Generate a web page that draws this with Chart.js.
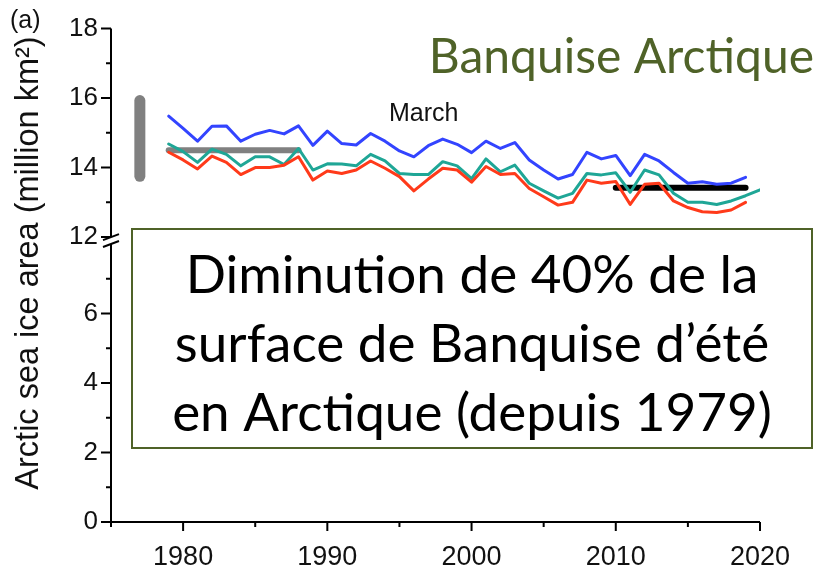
<!DOCTYPE html>
<html>
<head>
<meta charset="utf-8">
<script src="https://cdn.jsdelivr.net/npm/chart.js@4.4.0/dist/chart.umd.min.js"></script>
<style>
  html, body { margin: 0; padding: 0; background: #fff; }
</style>
</head>
<body>
<canvas id="myChart" width="825" height="567"></canvas>
<script>
// March sea ice area, million km2
const years = [
  1979, 1980, 1981, 1982, 1983, 1984, 1985, 1986, 1987, 1988,
  1989, 1990, 1991, 1992, 1993, 1994, 1995, 1996, 1997, 1998,
  1999, 2000, 2001, 2002, 2003, 2004, 2005, 2006, 2007, 2008,
  2009, 2010, 2011, 2012, 2013, 2014, 2015, 2016, 2017, 2018,
  2019, 2020
];
const blueArea = [
  15.48, 15.13, 14.76, 15.19, 15.20, 14.76, 14.96, 15.07, 14.97, 15.20,
  14.64, 15.05, 14.69, 14.65, 14.98, 14.76, 14.48, 14.31, 14.63, 14.82,
  14.67, 14.43, 14.76, 14.55, 14.72, 14.22, 13.93, 13.67, 13.80, 14.44,
  14.25, 14.35, 13.77, 14.38, 14.19, 13.86, 13.55, 13.59, 13.52, 13.55,
  13.72
];
const tealArea = [
  14.68, 14.46, 14.15, 14.53, 14.38, 14.05, 14.31, 14.31, 14.09, 14.55,
  13.93, 14.11, 14.10, 14.05, 14.38, 14.19, 13.83, 13.80, 13.80, 14.17,
  14.05, 13.68, 14.25, 13.88, 14.07, 13.55, 13.33, 13.12, 13.26, 13.83,
  13.79, 13.85, 13.29, 13.93, 13.79, 13.26, 13.00, 13.00, 12.94, 13.04,
  13.19, 13.36
];
const redArea = [
  14.44, 14.22, 13.96, 14.33, 14.15, 13.80, 14.00, 14.00, 14.07, 14.31,
  13.64, 13.90, 13.83, 13.93, 14.19, 13.98, 13.74, 13.33, 13.67, 13.98,
  13.93, 13.58, 14.03, 13.80, 13.83, 13.40, 13.16, 12.92, 13.00, 13.64,
  13.55, 13.60, 12.94, 13.52, 13.55, 13.04, 12.85, 12.73, 12.71, 12.78,
  13.00
];

// reference periods: 1979-1988 mean, 2010-2019 mean, spread bar
const earlyYears = [1979, 1988];
const earlyMean = [14.5, 14.5];
const lateYears = [2010, 2019];
const lateMean = [13.42, 13.42];
const spreadYears = [1977, 1977];
const spreadRange = [13.75, 15.93];

const xMajor = [1980, 1990, 2000, 2010, 2020];
const xMinor = [1975, 1985, 1995, 2005, 2015];
const yMajor = [0, 2, 4, 6, 12, 14, 16, 18];
const yMinor = [1, 3, 5, 7, 13, 15, 17];

// the axis is broken between 8 and 12: values from 12 up are drawn shifted down
const BREAK_LOW = 8;
const BREAK_HIGH = 12;
const BREAK_SHIFT = 3.8;
const shown = v => (v >= BREAK_HIGH ? v - BREAK_SHIFT : v);
const real = v => (v >= BREAK_LOW + 0.1 ? v + BREAK_SHIFT : v);
const points = (xs, ys) => ys.map((v, i) => ({ x: xs[i], y: shown(v) }));

const SANS = "'Liberation Sans', Arial, sans-serif";
const SLIDE = "Lato, 'Open Sans', sans-serif";

function lineSet(data, color, width) {
  return {
    data: data,
    borderColor: color,
    borderWidth: width,
    borderCapStyle: "round",
    borderJoinStyle: "round",
    pointRadius: 0,
    tension: 0,
    fill: false
  };
}

const decorations = {
  id: "decorations",
  afterDraw(chart) {
    const ctx = chart.ctx;
    const xs = chart.scales.x;
    const ys = chart.scales.y;
    const area = chart.chartArea;
    const ax = area.left;
    const ay = area.bottom;

    ctx.save();
    ctx.strokeStyle = "#000";
    ctx.lineWidth = 2;
    ctx.lineCap = "butt";

    // y axis in two pieces around the break
    const yLowTop = ys.getPixelForValue(BREAK_LOW);
    const yHighBottom = ys.getPixelForValue(shown(BREAK_HIGH));
    ctx.beginPath();
    ctx.moveTo(ax, ay + 1);
    ctx.lineTo(ax, yLowTop);
    ctx.moveTo(ax, yHighBottom);
    ctx.lineTo(ax, area.top);
    ctx.stroke();

    // break marks
    ctx.beginPath();
    ctx.moveTo(ax - 8, yHighBottom + 3);
    ctx.lineTo(ax + 8, yHighBottom - 3);
    ctx.moveTo(ax - 8, yLowTop + 3);
    ctx.lineTo(ax + 8, yLowTop - 3);
    ctx.stroke();

    // x axis
    ctx.beginPath();
    ctx.moveTo(ax - 1, ay);
    ctx.lineTo(area.right, ay);
    ctx.stroke();

    // tick marks
    ctx.beginPath();
    yMajor.forEach(v => {
      const p = ys.getPixelForValue(shown(v));
      ctx.moveTo(ax - 10, p);
      ctx.lineTo(ax, p);
    });
    yMinor.forEach(v => {
      const p = ys.getPixelForValue(shown(v));
      ctx.moveTo(ax - 5, p);
      ctx.lineTo(ax, p);
    });
    xMajor.forEach(v => {
      const p = xs.getPixelForValue(v);
      ctx.moveTo(p, ay);
      ctx.lineTo(p, ay + 9);
    });
    xMinor.forEach(v => {
      const p = xs.getPixelForValue(v);
      ctx.moveTo(p, ay);
      ctx.lineTo(p, ay + 5);
    });
    ctx.stroke();

    // panel letter and series label
    ctx.fillStyle = "#111";
    ctx.textBaseline = "alphabetic";
    ctx.textAlign = "left";
    ctx.font = "25px " + SANS;
    ctx.fillText("(a)", 10, 28);
    ctx.fillText("March", 389, 121);

    // y axis title
    ctx.save();
    ctx.translate(29, 263);
    ctx.rotate(-Math.PI / 2);
    ctx.textAlign = "center";
    ctx.textBaseline = "middle";
    ctx.font = "32.5px " + SANS;
    ctx.fillText("Arctic sea ice area (million km\u00b2)", 0, 0);
    ctx.restore();

    // heading
    ctx.fillStyle = "#4f6228";
    ctx.textAlign = "right";
    ctx.font = "48px " + SLIDE;
    ctx.fillText("Banquise Arctique", 814, 73);

    // text box
    const box = { left: 132, top: 229, right: 812, bottom: 448 };
    ctx.fillStyle = "#fff";
    ctx.fillRect(box.left, box.top, box.right - box.left, box.bottom - box.top);
    ctx.strokeStyle = "#4f6228";
    ctx.lineWidth = 2;
    ctx.strokeRect(box.left, box.top, box.right - box.left, box.bottom - box.top);

    ctx.fillStyle = "#000";
    ctx.textAlign = "center";
    ctx.font = "53px " + SLIDE;
    const cx = (box.left + box.right) / 2;
    ctx.fillText("Diminution de 40% de la", cx, 293);
    ctx.fillText("surface de Banquise d\u2019\u00e9t\u00e9", cx, 362);
    ctx.fillText("en Arctique (depuis 1979)", cx, 431);
    ctx.restore();
  }
};

const ctx = document.getElementById("myChart").getContext("2d");

const chart = new Chart(ctx, {
  type: "line",
  data: {
    datasets: [
      lineSet(points(years, redArea), "#ff3a1a", 3),
      lineSet(points(years, tealArea), "#1fa696", 3),
      lineSet(points(years, blueArea), "#3344ff", 3),
      lineSet(points(lateYears, lateMean), "#000000", 6),
      lineSet(points(earlyYears, earlyMean), "#808080", 6),
      lineSet(points(spreadYears, spreadRange), "#808080", 11)
    ]
  },
  options: {
    responsive: false,
    animation: false,
    layout: { padding: { top: 27, right: 65, left: 0, bottom: 0 } },
    plugins: {
      legend: { display: false },
      tooltip: { enabled: false }
    },
    scales: {
      x: {
        type: "linear",
        min: 1975,
        max: 2020,
        afterBuildTicks: scale => {
          scale.ticks = xMajor.map(v => ({ value: v }));
        },
        afterFit: scale => {
          scale.height = 45;
        },
        grid: { display: false, drawTicks: false },
        border: { display: false },
        ticks: {
          color: "#111",
          padding: 19,
          maxRotation: 0,
          font: { family: SANS, size: 27 },
          callback: v => String(v)
        }
      },
      y: {
        type: "linear",
        min: 0,
        max: shown(18),
        afterBuildTicks: scale => {
          scale.ticks = yMajor.map(v => ({ value: shown(v) }));
        },
        afterFit: scale => {
          scale.width = 111;
        },
        grid: { display: false, drawTicks: false },
        border: { display: false },
        ticks: {
          color: "#111",
          padding: 13,
          font: { family: SANS, size: 26 },
          callback: v => String(Math.round(real(v)))
        }
      }
    }
  },
  plugins: [decorations]
});
</script>
</body>
</html>
